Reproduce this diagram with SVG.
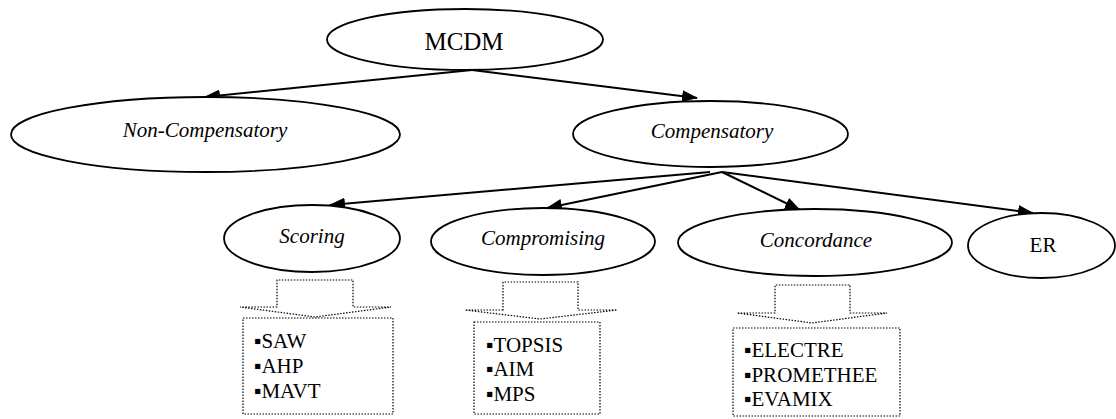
<svg xmlns="http://www.w3.org/2000/svg" width="1116" height="419" viewBox="0 0 1116 419">
<defs>
<marker id="ah" markerUnits="userSpaceOnUse" markerWidth="16" markerHeight="12" viewBox="0 0 16 12" refX="15" refY="6" orient="auto">
<path d="M0,0 L16,6 L0,12 Z" fill="#000"/>
</marker>
<style>
.ell{fill:#fff;stroke:#000;stroke-width:1.8}
.lbl{font-family:"Liberation Serif","Times New Roman",serif;font-size:21px;fill:#000;text-anchor:middle}
.big{font-size:25px}
.it{font-style:italic}
.con{stroke:#000;stroke-width:2;fill:none;marker-end:url(#ah)}
.dot{fill:none;stroke:#000;stroke-width:1.2;stroke-dasharray:1.5 1.5}
.lst{font-family:"Liberation Serif","Times New Roman",serif;font-size:21px;fill:#000}
</style>
</defs>
<rect width="1116" height="419" fill="#fff"/>
<g id="connectors">
<line class="con" x1="472" y1="70" x2="205" y2="97"/>
<line class="con" x1="472" y1="70" x2="697" y2="98"/>
<line class="con" x1="710" y1="172" x2="330" y2="205"/>
<line class="con" x1="722" y1="172" x2="547" y2="208"/>
<line class="con" x1="722" y1="172" x2="800" y2="210"/>
<line class="con" x1="722" y1="172" x2="1033" y2="213"/>
</g>
<g id="mcdm">
<ellipse class="ell" cx="465" cy="39.5" rx="138" ry="30.5"/>
<text class="lbl big" x="464" y="50">MCDM</text>
</g>
<g id="noncomp">
<ellipse class="ell" cx="205.5" cy="134.5" rx="194.5" ry="37.5"/>
<text class="lbl it" x="205" y="137">Non-Compensatory</text>
</g>
<g id="comp">
<ellipse class="ell" cx="710.5" cy="134" rx="137.5" ry="33"/>
<text class="lbl it" x="712" y="138">Compensatory</text>
</g>
<g id="scoring">
<ellipse class="ell" cx="312" cy="238.5" rx="88" ry="33.5"/>
<text class="lbl it" x="312" y="243">Scoring</text>
</g>
<g id="compromising">
<ellipse class="ell" cx="543" cy="241.5" rx="112" ry="33.5"/>
<text class="lbl it" x="543" y="245">Compromising</text>
</g>
<g id="concordance">
<ellipse class="ell" cx="815" cy="242.5" rx="137" ry="33.5"/>
<text class="lbl it" x="816" y="247">Concordance</text>
</g>
<g id="er">
<ellipse class="ell" cx="1041.5" cy="245.5" rx="73.5" ry="32.5"/>
<text class="lbl" x="1043" y="252">ER</text>
</g>
<g id="scoring-methods">
<path class="dot" d="M277,307 L240,307 L315,317 L391,307 L353,307 L353,280 L277,280 Z"/>
<rect class="dot" x="243" y="318" width="150" height="96"/>
<text class="lst" x="254" y="348">▪SAW</text>
<text class="lst" x="254" y="373">▪AHP</text>
<text class="lst" x="254" y="398">▪MAVT</text>
</g>
<g id="compromising-methods">
<path class="dot" d="M503,310 L465,310 L540,319 L617,310 L578,310 L578,282 L503,282 Z"/>
<rect class="dot" x="474" y="322" width="126" height="92"/>
<text class="lst" x="486" y="352">▪TOPSIS</text>
<text class="lst" x="486" y="376">▪AIM</text>
<text class="lst" x="486" y="401">▪MPS</text>
</g>
<g id="concordance-methods">
<path class="dot" d="M775,313 L737,313 L812,323 L887,313 L850,313 L850,285 L775,285 Z"/>
<rect class="dot" x="733" y="328" width="167" height="88"/>
<text class="lst" x="744" y="357">▪ELECTRE</text>
<text class="lst" x="744" y="382">▪PROMETHEE</text>
<text class="lst" x="744" y="406">▪EVAMIX</text>
</g>
</svg>
